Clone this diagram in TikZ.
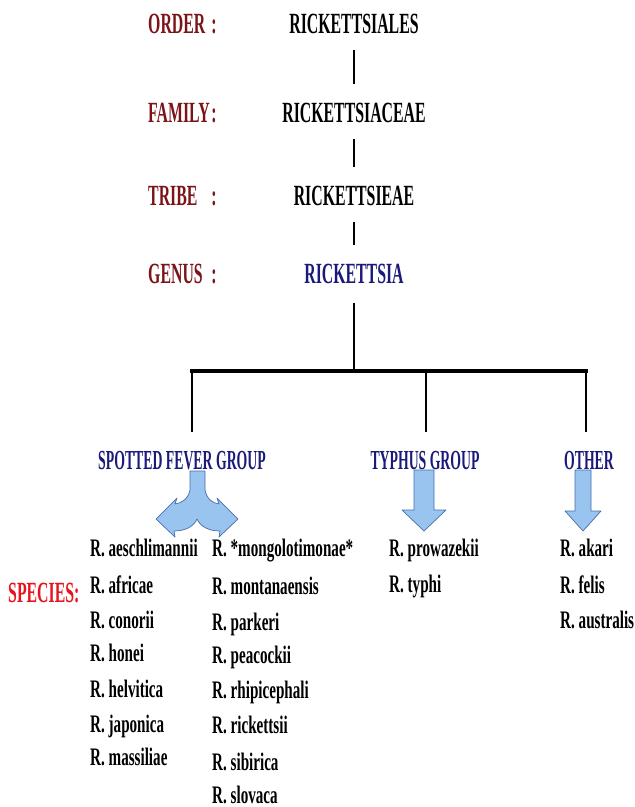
\documentclass[tikz,border=0pt]{standalone}
\usepackage{fontspec}
\setmainfont{Liberation Serif}
\newfontfamily\hdrfont[FakeStretch=0.54]{Liberation Serif}
\newfontfamily\grpfont[FakeStretch=0.5]{Liberation Serif}
\newfontfamily\spcfont[FakeStretch=0.6]{Liberation Serif}
\definecolor{rankred}{RGB}{122,20,24}
\definecolor{taxblue}{RGB}{26,26,122}
\definecolor{specred}{RGB}{230,20,30}
\definecolor{arrowfill}{RGB}{153,196,240}
\definecolor{arrowdraw}{RGB}{70,110,170}
\begin{document}
\begin{tikzpicture}[x=0.03cm, y=-0.03cm]
      \tikzstyle{rank} = [inner sep=0, anchor=base west, text=rankred, font=\hdrfont\bfseries\fontsize{25}{27}\selectfont]
      \tikzstyle{taxon} = [inner sep=0, anchor=base, font=\hdrfont\bfseries\fontsize{25}{27}\selectfont]
      \tikzstyle{group} = [inner sep=0, anchor=base, text=taxblue, font=\grpfont\bfseries\fontsize{23.5}{25}\selectfont]
      \tikzstyle{species} = [inner sep=0, anchor=base west, font=\spcfont\bfseries\fontsize{21.5}{23}\selectfont]
      \tikzstyle{link} = [line width=2.2pt, shorten <=0.5cm, shorten >=0.55cm]
      \tikzstyle{bigarrow} = [fill=arrowfill, draw=arrowdraw, line width=0.6pt, line join=round]

      \useasboundingbox (0,0) rectangle (634,807);

      % ranks
      \node (ordlbl) [rank] at (148,33) {\makebox[2.05cm][l]{ORDER\hfill:}};
      \node (famlbl) [rank] at (148,122) {\makebox[2.05cm][l]{FAMILY\hfill:}};
      \node (trilbl) [rank] at (148,205) {\makebox[2.05cm][l]{TRIBE\hfill:}};
      \node (genlbl) [rank] at (148,283) {\makebox[2.05cm][l]{GENUS\hfill:}};

      \node (ord) [taxon] at (354,33) {RICKETTSIALES};
      \node (fam) [taxon] at (354,122) {RICKETTSIACEAE};
      \node (tri) [taxon] at (354,205) {RICKETTSIEAE};
      \node (gen) [taxon, text=taxblue] at (354,283) {RICKETTSIA};

      \draw [link] (ord.south) -- (fam.north);
      \draw [link] (fam.south) -- (tri.north);
      \draw [link] (tri.south) -- (gen.north);

      % groups
      \coordinate (bl) at (192,371);
      \coordinate (bm) at (426,371);
      \coordinate (br) at (586,371);

      \node (sfg) [group] at (182,469) {SPOTTED FEVER GROUP};
      \node (tg) [group] at (425,469) {TYPHUS GROUP};
      \node (oth) [group] at (589,469) {OTHER};

      \draw [line width=2.4pt, shorten <=0.57cm] (gen.south) -- (gen.south |- bl);
      \draw [line width=3.4pt, line cap=rect] (bl) -- (br);
      \draw [line width=2.2pt, shorten >=0.57cm] (bl) -- (bl |- sfg.north);
      \draw [line width=2.2pt, shorten >=0.57cm] (bm) -- (bm |- tg.north);
      \draw [line width=2.2pt, shorten >=0.57cm] (br) -- (br |- oth.north);

      % block arrows
      \draw [bigarrow] (190,471) -- (205,471) -- (205,490)
        .. controls (207,499) and (212,503) .. (219,504) -- (217,498) -- (238,519) -- (219,537) -- (220,531)
        .. controls (208,531) and (200,526) .. (197,519)
        .. controls (194,526) and (186,531) .. (174,531) -- (175,537) -- (156,519) -- (177,498) -- (175,504)
        .. controls (182,503) and (188,499) .. (190,490) -- cycle;
      \draw [bigarrow] (414,470) -- (434,470) -- (434,510) -- (446,510) -- (424,531) -- (402,510) -- (414,510) -- cycle;
      \draw [bigarrow] (575,470) -- (591,470) -- (591,511) -- (601,511) -- (583,531) -- (565,511) -- (575,511) -- cycle;

      % species
      \node (spec) [inner sep=0, anchor=base west, text=specred, font=\hdrfont\bfseries\fontsize{25}{27}\selectfont] at (8,602) {SPECIES:};

      \foreach \sp/\y [count=\i] in {aeschlimannii/556, africae/593, conorii/628, honei/661, helvitica/697, japonica/732, massiliae/765}
        \node (sfa\i) [species] at (90,\y) {R. \sp};
      \foreach \sp/\y [count=\i] in {*mongolotimonae*/556, montanaensis/594, parkeri/630, peacockii/663, rhipicephali/698, rickettsii/733, sibirica/770, slovaca/803}
        \node (sfb\i) [species] at (212,\y) {R. \sp};
      \foreach \sp/\y [count=\i] in {prowazekii/556, typhi/592}
        \node (ty\i) [species] at (389,\y) {R. \sp};
      \foreach \sp/\y [count=\i] in {akari/556, felis/593, australis/628}
        \node (ot\i) [species] at (560,\y) {R. \sp};
    \end{tikzpicture}
\end{document}
